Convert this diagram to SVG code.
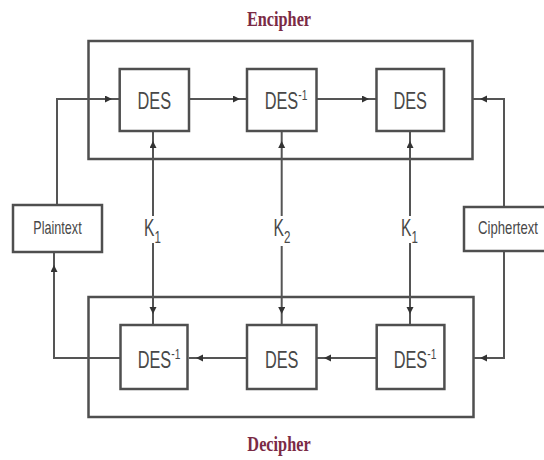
<svg xmlns="http://www.w3.org/2000/svg" width="544" height="460" viewBox="0 0 544 460">
<style>
  .frame{fill:none;stroke:#4f4f4f;stroke-width:2.5}
  .box{fill:#fff;stroke:#4f4f4f;stroke-width:2.5}
  .ln{fill:none;stroke:#555;stroke-width:2}
  .lbl{font-family:"Liberation Sans",Arial,sans-serif;fill:#484848;text-anchor:middle}
  .des{font-size:24px}
  .io{font-size:18px}
  .key{font-size:23px}
  .title{font-family:"Liberation Serif","Times New Roman",serif;font-weight:bold;font-size:22px;fill:#7b2a45;text-anchor:middle}
</style>
<defs>
  <marker id="ah" markerUnits="userSpaceOnUse" markerWidth="8" markerHeight="8" refX="7" refY="3.5" orient="auto">
    <path d="M0,0 L7,3.5 L0,7 z" fill="#333"/>
  </marker>
</defs>
<rect width="544" height="460" fill="#fff"/>

<g id="encipher-title"><text class="title" transform="translate(279,26) scale(0.74,1)">Encipher</text></g>
<g id="decipher-title"><text class="title" transform="translate(279,451) scale(0.74,1)">Decipher</text></g>

<g id="encipher-frame"><rect class="frame" x="88.5" y="41" width="384" height="118"/></g>
<g id="decipher-frame"><rect class="frame" x="88.5" y="297" width="385" height="120"/></g>

<g id="connectors">
  <path class="ln" d="M57 205 V99 H112" marker-end="url(#ah)"/>
  <path class="ln" d="M112 99 H120"/>
  <path class="ln" d="M189 99 H240" marker-end="url(#ah)"/>
  <path class="ln" d="M240 99 H247"/>
  <path class="ln" d="M316.5 99 H369" marker-end="url(#ah)"/>
  <path class="ln" d="M369 99 H376.5"/>
  <path class="ln" d="M504 207 V99 H480" marker-end="url(#ah)"/>
  <path class="ln" d="M480 99 H472.6"/>

  <path class="ln" d="M153 216 V141" marker-end="url(#ah)"/>
  <path class="ln" d="M153 141 V131"/>
  <path class="ln" d="M153 243 V314" marker-end="url(#ah)"/>
  <path class="ln" d="M153 314 V325"/>
  <path class="ln" d="M281.7 216 V141" marker-end="url(#ah)"/>
  <path class="ln" d="M281.7 141 V131"/>
  <path class="ln" d="M281.7 246 V314" marker-end="url(#ah)"/>
  <path class="ln" d="M281.7 314 V325"/>
  <path class="ln" d="M410 216 V141" marker-end="url(#ah)"/>
  <path class="ln" d="M410 141 V131"/>
  <path class="ln" d="M410 243 V314" marker-end="url(#ah)"/>
  <path class="ln" d="M410 314 V325"/>

  <path class="ln" d="M504 251 V358 H480" marker-end="url(#ah)"/>
  <path class="ln" d="M480 358 H474"/>
  <path class="ln" d="M376.5 358 H324" marker-end="url(#ah)"/>
  <path class="ln" d="M324 358 H316.5"/>
  <path class="ln" d="M247 358 H196" marker-end="url(#ah)"/>
  <path class="ln" d="M196 358 H189"/>
  <path class="ln" d="M120.5 358 H54 V265" marker-end="url(#ah)"/>
  <path class="ln" d="M54 265 V252"/>
</g>

<g id="enc-des1"><rect class="box" x="119.7" y="69" width="69.3" height="62"/>
  <text class="lbl des" transform="translate(154.3,109) scale(0.68,1)">DES</text></g>
<g id="enc-desinv"><rect class="box" x="247" y="69" width="69.5" height="62"/>
  <text class="lbl des" transform="translate(286,109) scale(0.68,1)">DES<tspan font-size="15" dy="-9">-1</tspan></text></g>
<g id="enc-des2"><rect class="box" x="376.5" y="69" width="67.5" height="62"/>
  <text class="lbl des" transform="translate(410.2,109) scale(0.68,1)">DES</text></g>

<g id="dec-desinv1"><rect class="box" x="120.5" y="325" width="67" height="64"/>
  <text class="lbl des" transform="translate(159,368) scale(0.68,1)">DES<tspan font-size="15" dy="-9">-1</tspan></text></g>
<g id="dec-des"><rect class="box" x="247" y="325" width="69.5" height="64"/>
  <text class="lbl des" transform="translate(281.7,368) scale(0.68,1)">DES</text></g>
<g id="dec-desinv2"><rect class="box" x="376.7" y="325" width="67.7" height="64"/>
  <text class="lbl des" transform="translate(415,368) scale(0.68,1)">DES<tspan font-size="15" dy="-9">-1</tspan></text></g>

<g id="plaintext"><rect class="box" x="13" y="205" width="89" height="47"/>
  <text class="lbl io" transform="translate(57.5,234) scale(0.7,1)">Plaintext</text></g>
<g id="ciphertext"><rect class="box" x="464" y="207" width="90" height="44"/>
  <text class="lbl io" transform="translate(508,234) scale(0.73,1)">Ciphertext</text></g>

<g id="key1"><text class="lbl key" transform="translate(152.5,236) scale(0.68,1)">K<tspan font-size="17" dy="7">1</tspan></text></g>
<g id="key2"><text class="lbl key" transform="translate(282,236) scale(0.68,1)">K<tspan font-size="17" dy="7">2</tspan></text></g>
<g id="key3"><text class="lbl key" transform="translate(409.5,236) scale(0.68,1)">K<tspan font-size="17" dy="7">1</tspan></text></g>
</svg>
